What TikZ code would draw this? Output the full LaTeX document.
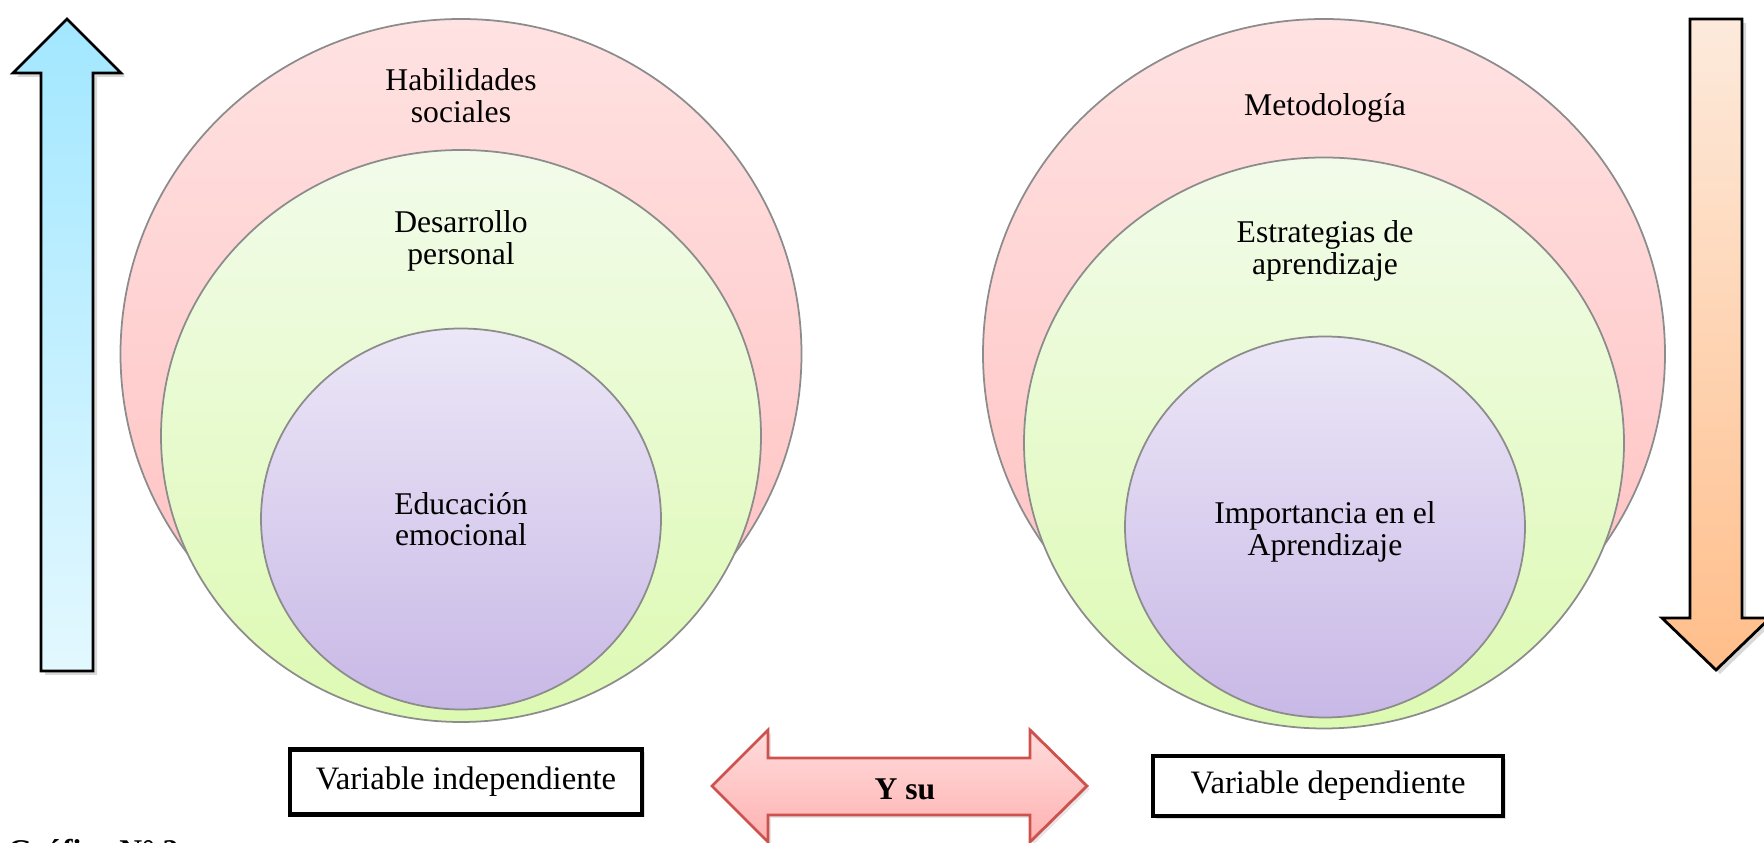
\documentclass[tikz,border=0pt]{standalone}
\usepackage{fontspec}
\setmainfont{Liberation Serif}
\usetikzlibrary{shapes.geometric,shadows}

\definecolor{rosaA}{RGB}{255,226,226}
\definecolor{rosaB}{RGB}{255,190,190}
\definecolor{verdeA}{RGB}{242,251,234}
\definecolor{verdeB}{RGB}{221,250,178}
\definecolor{lilaA}{RGB}{236,231,247}
\definecolor{lilaB}{RGB}{200,184,230}
\definecolor{celesteA}{RGB}{162,231,255}
\definecolor{celesteB}{RGB}{227,248,255}
\definecolor{naranjaA}{RGB}{253,234,220}
\definecolor{naranjaB}{RGB}{255,190,138}
\definecolor{rojoA}{RGB}{255,220,220}
\definecolor{rojoB}{RGB}{255,178,178}
\definecolor{rojoBorde}{RGB}{205,82,78}

\begin{document}
\begin{tikzpicture}[x=0.1mm,y=-0.1mm,
        anillo/.style={ellipse,draw=black!45,line width=0.5pt,inner sep=0pt},
        texto/.style={align=center,font=\fontsize{9}{9}\selectfont},
        caja/.style={draw=black,line width=1.4pt,fill=white,inner sep=0pt,
            drop shadow={opacity=0.25,shadow xshift=0.3mm,shadow yshift=-0.3mm}},
        flecha/.style={draw=black,line width=0.8pt,
            drop shadow={opacity=0.3,shadow xshift=0.4mm,shadow yshift=-0.4mm}}]
    \useasboundingbox (0,0) rectangle (1764,843);

    % flechas laterales
    \path[flecha,top color=celesteA,bottom color=celesteB]
        (41,671) -- (41,73) -- (13,73) -- (67,19) -- (121,73) -- (93,73) -- (93,671) -- cycle;
    \path[flecha,top color=naranjaA,bottom color=naranjaB]
        (1690,19) -- (1742,19) -- (1742,618) -- (1770,618) -- (1716,670) -- (1662,618) -- (1690,618) -- cycle;

    % variable independiente
    \begin{scope}[every node/.style={anillo}]
        \node[top color=rosaA,bottom color=rosaB,minimum width=68.1mm,minimum height=67mm] (hab) at (461,354) {};
        \node[top color=verdeA,bottom color=verdeB,minimum width=60mm,minimum height=57.2mm] (des) at (461,436) {};
        \node[top color=lilaA,bottom color=lilaB,minimum width=40mm,minimum height=38.1mm] (edu) at (461,519) {};
    \end{scope}
    % variable dependiente
    \begin{scope}[every node/.style={anillo}]
        \node[top color=rosaA,bottom color=rosaB,minimum width=68.2mm,minimum height=67mm] (met) at (1324,354) {};
        \node[top color=verdeA,bottom color=verdeB,minimum width=60mm,minimum height=57.1mm] (est) at (1324,443) {};
        \node[top color=lilaA,bottom color=lilaB,minimum width=40mm,minimum height=38.1mm] (imp) at (1325,527) {};
    \end{scope}

    \begin{scope}[every node/.style={texto}]
        \node (thab) at (461,96) {Habilidades\\sociales};
        \node (tdes) at (461,241) {Desarrollo\\personal};
        \node (tedu) at (461,519) {Educación\\emocional};
        \node (tmet) at (1325,108) {Metodología};
        \node (test) at (1325,251) {Estrategias de\\aprendizaje};
        \node (timp) at (1325,532) {Importancia en el\\Aprendizaje};
    \end{scope}

    \node[caja,texto,font=\fontsize{9.3}{9.3}\selectfont,minimum width=35.2mm,minimum height=6.5mm] (vind) at (466,782) {Variable independiente};
    \node[caja,texto,font=\fontsize{9.3}{9.3}\selectfont,minimum width=35mm,minimum height=6mm] (vdep) at (1328,786) {Variable dependiente};

    % flecha doble
    \path[draw=rojoBorde,line width=0.8pt,top color=rojoA,bottom color=rojoB,
            drop shadow={opacity=0.2,shadow xshift=0.3mm,shadow yshift=-0.3mm}]
        (712,786) -- (768,730) -- (768,758) -- (1030,758) -- (1030,730) -- (1087,786)
        -- (1030,842) -- (1030,815) -- (768,815) -- (768,842) -- cycle;
    \node[texto,font=\fontsize{9}{9}\selectfont\bfseries] (ysu) at (905,789) {Y su};

    \node[texto,font=\fontsize{9}{9}\selectfont\bfseries,anchor=north west,inner sep=0pt] (graf) at (7,839) {Gráfico N° 2};
\end{tikzpicture}
\end{document}
